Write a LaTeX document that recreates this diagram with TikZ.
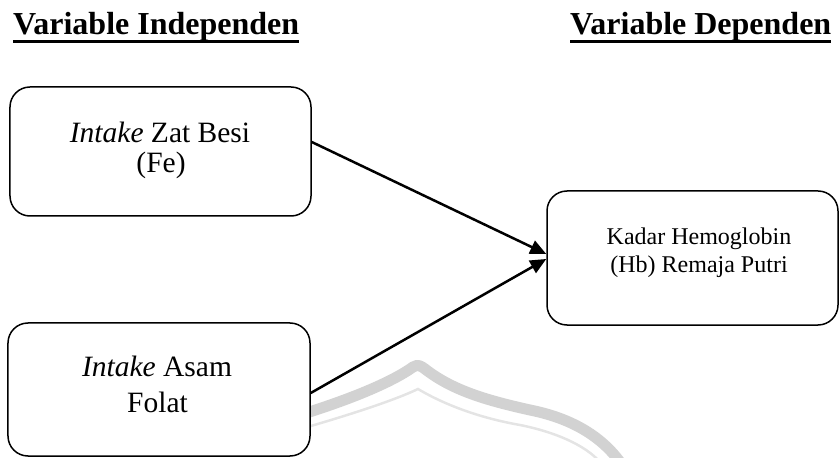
\documentclass[tikz,border=0pt]{standalone}
\usepackage{fontspec}
\setmainfont{Liberation Serif}
\usetikzlibrary{arrows.meta,calc}
\definecolor{wmband}{RGB}{210,210,210}
\definecolor{wmline}{RGB}{228,228,228}
\begin{document}
\begin{tikzpicture}[x=1bp,y=-1bp,
  box/.style={draw=black,line width=1.5bp,rounded corners=20bp,fill=white,inner sep=0pt},
  bodytext/.style={inner sep=0pt,anchor=base,font=\fontsize{29.5bp}{34bp}\selectfont},
  smalltext/.style={inner sep=0pt,anchor=base,font=\fontsize{24bp}{28bp}\selectfont},
  head/.style={inner sep=0pt,anchor=base west,font=\fontsize{32bp}{36bp}\selectfont\bfseries},
  conn/.style={line width=2.5bp,-{Triangle[length=16bp,width=14bp]}}]
\useasboundingbox (0,0) rectangle (840,458);
% watermark
\draw[wmband,line width=11bp] (290,418) .. controls (350,400) and (392,382) .. (413,367)
  .. controls (418,364) and (421,366) .. (425,369)
  .. controls (452,390) and (485,400) .. (530,410) .. controls (570,418) and (600,435) .. (620,462);
\draw[wmline,line width=2.5bp] (290,432) .. controls (350,415) and (395,400) .. (418,389)
  .. controls (445,405) and (480,418) .. (520,425) .. controls (555,432) and (585,445) .. (600,462);
% headings
\node[head] (h1) at (13,35) {Variable Independen};
\node[head] (h2) at (570,35) {Variable Dependen};
\draw[line width=2.8bp] ($(h1.base west)+(0,6.5)$) -- ($(h1.base east)+(0,6.5)$);
\draw[line width=2.8bp] ($(h2.base west)+(0,6.5)$) -- ($(h2.base east)+(0,6.5)$);
% boxes
\node[box,minimum width=301bp,minimum height=129bp] (fe) at (160.5,151.5) {};
\node[box,minimum width=302bp,minimum height=133bp] (fo) at (159,389.5) {};
\node[box,minimum width=291bp,minimum height=134bp] (hb) at (692.5,258) {};
% texts
\node[bodytext] (fe1) at (160,143) {\textit{Intake} Zat Besi};
\node[bodytext] (fe2) at (161,173) {(Fe)};
\node[bodytext] (fo1) at (157,377) {\textit{Intake} Asam};
\node[bodytext] (fo2) at (157.5,412) {Folat};
\node[smalltext] (hb1) at (699,245) {Kadar Hemoglobin};
\node[smalltext] (hb2) at (699,273) {(Hb) Remaja Putri};
% connectors
\draw[conn] ($(fe.east)+(0,-9.5)$) -- ($(hb.west)+(0,-4)$);
\draw[conn] ($(fo.east)+(0,3.5)$) -- ($(hb.west)+(0,1)$);
\end{tikzpicture}
\end{document}
